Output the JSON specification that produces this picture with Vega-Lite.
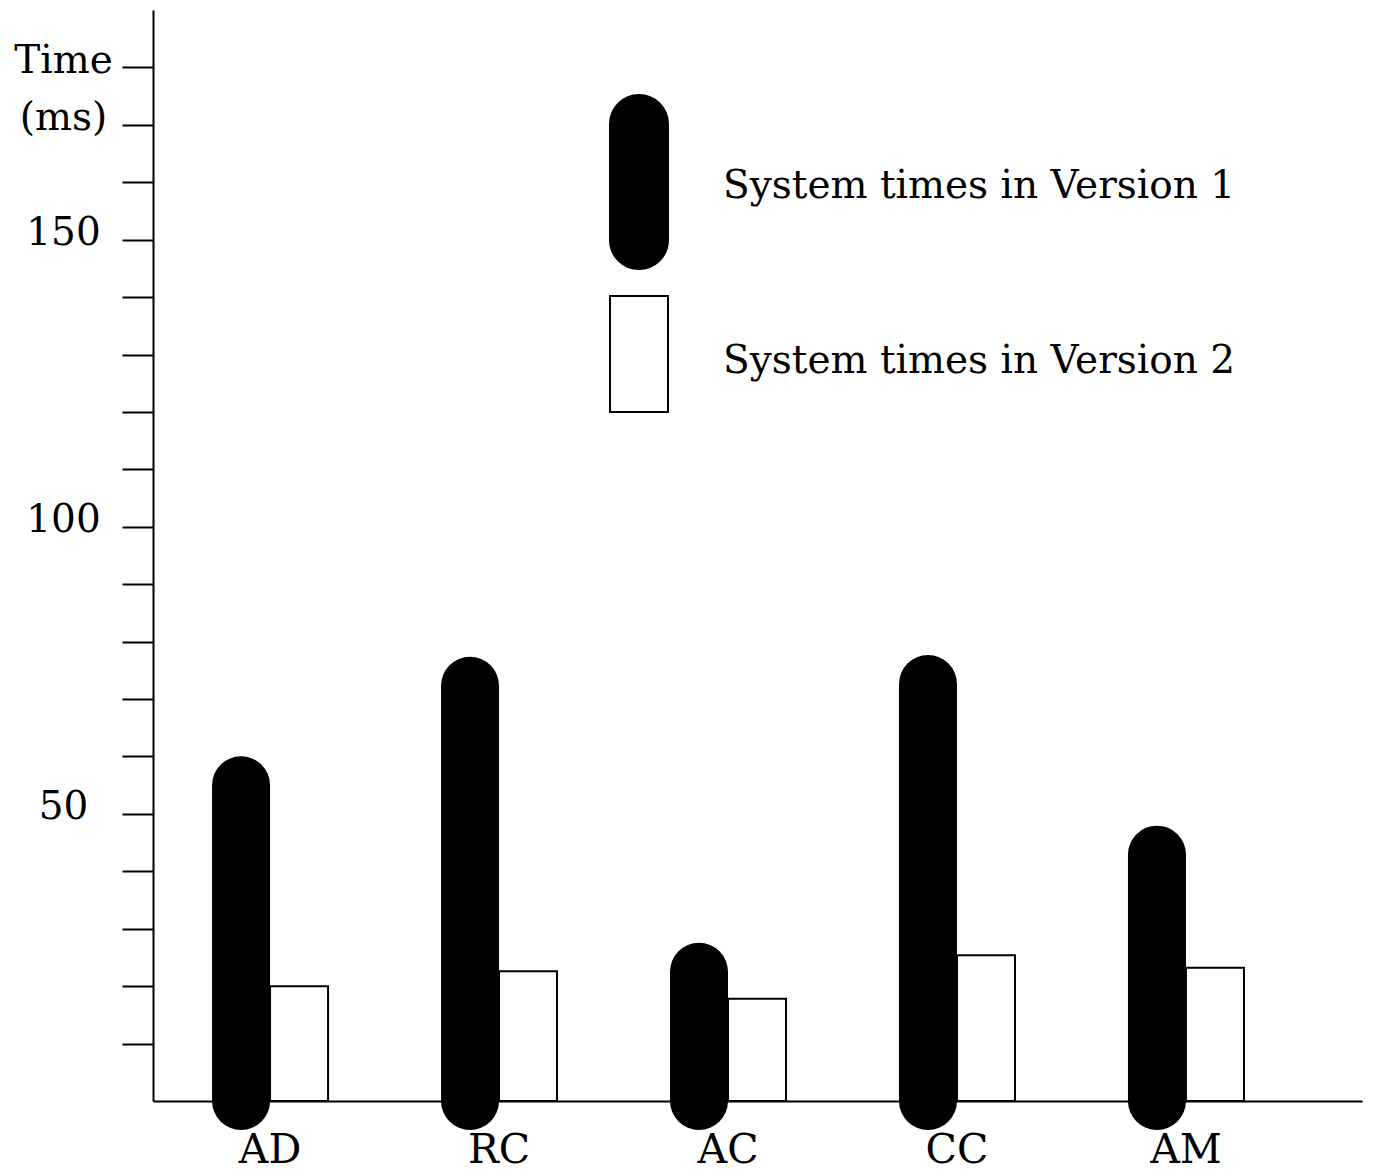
{
  "$schema": "https://vega.github.io/schema/vega-lite/v6.json",
  "autosize": "none",
  "width": 1209,
  "height": 1091,
  "padding": {"left": 153, "top": 10, "right": 11, "bottom": 73},
  "background": "white",
  "config": {
    "view": {"stroke": null},
    "font": "DejaVu Serif",
    "axis": {"labelFont": "DejaVu Serif", "labelFontSize": 39, "labelColor": "black", "domainColor": "black", "domainWidth": 2, "tickColor": "black", "tickWidth": 2, "grid": false, "title": null},
    "legend": {"labelFont": "DejaVu Serif", "labelFontSize": 39, "labelColor": "black"}
  },
  "data": {
    "values": [
      {"group": "AD", "series": "System times in Version 1", "time": 55.0},
      {"group": "RC", "series": "System times in Version 1", "time": 72.3},
      {"group": "AC", "series": "System times in Version 1", "time": 22.5},
      {"group": "CC", "series": "System times in Version 1", "time": 72.6},
      {"group": "AM", "series": "System times in Version 1", "time": 42.9},
      {"group": "AD", "series": "System times in Version 2", "time": 20.0},
      {"group": "RC", "series": "System times in Version 2", "time": 22.6},
      {"group": "AC", "series": "System times in Version 2", "time": 17.8},
      {"group": "CC", "series": "System times in Version 2", "time": 25.4},
      {"group": "AM", "series": "System times in Version 2", "time": 23.2}
    ]
  },
  "encoding": {
    "x": {
      "field": "group",
      "type": "nominal",
      "sort": ["AD", "RC", "AC", "CC", "AM"],
      "scale": {"paddingInner": 0, "paddingOuter": 0.14, "align": 0.04},
      "axis": {"labelAngle": 0, "ticks": false, "labelPadding": 29, "labelFontSize": 41}
    },
    "y": {
      "field": "time",
      "type": "quantitative",
      "scale": {"domain": [0, 190], "nice": false},
      "axis": {
        "values": [10, 20, 30, 40, 50, 60, 70, 80, 90, 100, 110, 120, 130, 140, 150, 160, 170, 180],
        "tickSize": 31,
        "labelAlign": "center",
        "labelBaseline": "middle",
        "labelPadding": 59,
        "labelOffset": -7,
        "labelExpr": "datum.value == 180 ? 'Time' : datum.value == 170 ? '(ms)' : (datum.value % 50 == 0 ? datum.label : '')"
      }
    }
  },
  "layer": [
    {
      "transform": [{"filter": "datum.series == 'System times in Version 2'"}],
      "mark": {"type": "bar", "width": 58, "xOffset": 29, "stroke": "black", "strokeWidth": 2},
      "encoding": {
        "y2": {"datum": 0},
        "fill": {
          "field": "series",
          "type": "nominal",
          "scale": {"domain": ["System times in Version 1", "System times in Version 2"], "range": ["black", "white"]},
          "legend": {
            "title": null,
            "orient": "none",
            "legendX": 398,
            "legendY": 88,
            "padding": 0,
            "symbolSize": 30276,
            "symbolStrokeColor": "black",
            "symbolStrokeWidth": 2,
            "labelOffset": -4,
            "labelLimit": 0,
            "labelBaseline": "middle",
            "rowPadding": 0,
            "symbolType": {"expr": "datum.value == 'System times in Version 1' ? 'M-0.3333,-0.7126A0.3333,0.3333,0,0,1,0.3333,-0.7126L0.3333,0.6207A0.3333,0.3333,0,0,1,-0.3333,0.6207Z' : 'M-0.3333,-0.7467L0.3333,-0.7467L0.3333,0.5867L-0.3333,0.5867Z'"}
          }
        }
      }
    },
    {
      "transform": [{"filter": "datum.series == 'System times in Version 1'"}],
      "mark": {"type": "rule", "strokeWidth": 58, "strokeCap": "round", "color": "black", "xOffset": -29},
      "encoding": {
        "y2": {"datum": 0}
      }
    }
  ]
}
